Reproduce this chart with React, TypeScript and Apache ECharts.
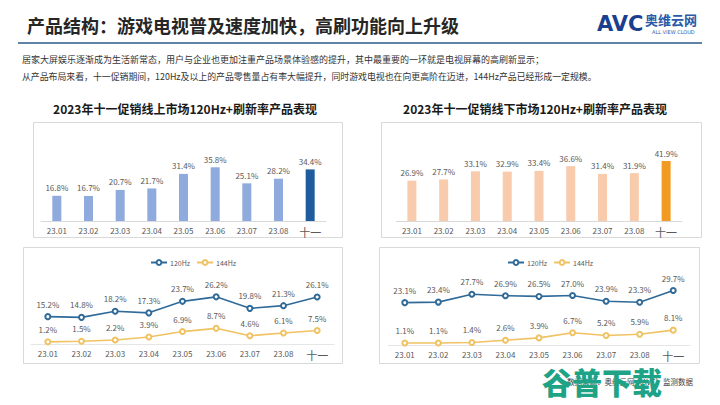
import React, { useEffect, useRef } from "react";
import * as echarts from "echarts";

const categories = ["23.01", "23.02", "23.03", "23.04", "23.05", "23.06", "23.07", "23.08", "十一"];
const onlineShare = [16.8, 16.7, 20.7, 21.7, 31.4, 35.8, 25.1, 28.2, 34.4];
const offlineShare = [26.9, 27.7, 33.1, 32.9, 33.4, 36.6, 31.4, 31.9, 41.9];
const online120 = [15.2, 14.8, 18.2, 17.3, 23.7, 26.2, 19.8, 21.3, 26.1];
const online144 = [1.2, 1.5, 2.2, 3.9, 6.9, 8.7, 4.6, 6.1, 7.5];
const offline120 = [23.1, 23.4, 27.7, 26.9, 26.5, 27.0, 23.9, 23.3, 29.7];
const offline144 = [1.1, 1.1, 1.4, 2.6, 3.9, 6.7, 5.2, 5.9, 8.1];

const FONT = "'Noto Sans CJK SC', 'Noto Sans', sans-serif";
const LABEL_COLOR = "#595959";

const highlightLast = (arr: number[], base: string, hi: string) =>
  arr.map((v, i) =>
    i === arr.length - 1 ? { value: v, itemStyle: { color: hi } } : { value: v, itemStyle: { color: base } }
  );

const pct = (p: any) => Number(p.value).toFixed(1) + "%";

export default function App() {
  const ref = useRef<HTMLDivElement>(null);
  useEffect(() => {
    if (!ref.current) return;
    const chart = echarts.init(ref.current, null, { renderer: "svg" });

    const xAxisBase = (gridIndex: number, lineColor: string) => ({
      type: "category",
      gridIndex,
      data: categories,
      axisTick: { show: false },
      axisLine: { lineStyle: { color: lineColor, width: 1 } },
      axisLabel: {
        interval: 0,
        fontSize: 8,
        color: LABEL_COLOR,
        margin: 5,
        fontFamily: FONT,
        formatter: (v: string) => (v === "十一" ? "{b|十一}" : v),
        rich: { b: { fontSize: 11, color: LABEL_COLOR, fontFamily: FONT } },
      },
    });

    const lineSeries = (name: string, data: number[], idx: number, color: string) => ({
      type: "line",
      name,
      xAxisIndex: idx,
      yAxisIndex: idx,
      data,
      symbol: "emptyCircle",
      symbolSize: 5,
      lineStyle: { color, width: 1.6 },
      itemStyle: { color, borderWidth: 1 },
      label: {
        show: true,
        position: "top",
        distance: 5,
        fontSize: 8,
        color: LABEL_COLOR,
        fontFamily: FONT,
        formatter: pct,
      },
    });

    const option: any = {
      animation: false,
      backgroundColor: "#ffffff",
      textStyle: { fontFamily: FONT },
      grid: [
        { left: 41, top: 161, width: 285, height: 60 },
        { left: 396, top: 161, width: 286, height: 60 },
        { left: 31, top: 290, width: 303, height: 54 },
        { left: 388, top: 290, width: 302, height: 55 },
      ],
      xAxis: [
        xAxisBase(0, "#d9d9d9"),
        xAxisBase(1, "#d9d9d9"),
        xAxisBase(2, "#e6e6e6"),
        xAxisBase(3, "#e6e6e6"),
      ],
      yAxis: [
        { type: "value", gridIndex: 0, min: 0, max: 40, show: false },
        { type: "value", gridIndex: 1, min: 0, max: 40, show: false },
        { type: "value", gridIndex: 2, min: 0, max: 30, show: false },
        { type: "value", gridIndex: 3, min: 0, max: 30, show: false },
      ],
      legend: [
        {
          left: 145,
          top: 254,
          itemWidth: 16,
          itemHeight: 6,
          itemGap: 6,
          data: ["120Hz", "144Hz"],
          textStyle: { fontSize: 7, color: LABEL_COLOR, fontFamily: FONT, padding: [0, 0, 0, -2] },
        },
        {
          left: 502,
          top: 254,
          itemWidth: 16,
          itemHeight: 6,
          itemGap: 6,
          data: ["120Hz", "144Hz"],
          textStyle: { fontSize: 7, color: LABEL_COLOR, fontFamily: FONT, padding: [0, 0, 0, -2] },
        },
      ],
      series: [
        {
          type: "bar",
          name: "线上",
          xAxisIndex: 0,
          yAxisIndex: 0,
          barWidth: 9,
          data: highlightLast(onlineShare, "#8faadc", "#1f5c9e"),
          label: {
            show: true,
            position: "top",
            distance: 4,
            fontSize: 8,
            color: LABEL_COLOR,
            fontFamily: FONT,
            formatter: pct,
          },
        },
        {
          type: "bar",
          name: "线下",
          xAxisIndex: 1,
          yAxisIndex: 1,
          barWidth: 9,
          data: highlightLast(offlineShare, "#f8cbad", "#f29b22"),
          label: {
            show: true,
            position: "top",
            distance: 4,
            fontSize: 8,
            color: LABEL_COLOR,
            fontFamily: FONT,
            formatter: pct,
          },
        },
        lineSeries("120Hz", online120, 2, "#2f6a98"),
        lineSeries("144Hz", online144, 2, "#f0c262"),
        lineSeries("120Hz", offline120, 3, "#2f6a98"),
        lineSeries("144Hz", offline144, 3, "#f0c262"),
      ],
      graphic: [
        // title
        {
          type: "text",
          left: 27,
          top: 16,
          style: { text: "产品结构：游戏电视普及速度加快，高刷功能向上升级", fontSize: 18, fontWeight: "bold", fill: "#262626", fontFamily: FONT },
        },
        {
          type: "line",
          shape: { x1: 18, y1: 43, x2: 702, y2: 43 },
          style: { stroke: "#2a5a8a", lineWidth: 1.6 },
        },
        // logo
        {
          type: "text",
          left: 597,
          top: 13,
          style: { text: "AVC", fontSize: 21, fontWeight: 900, fill: "#1b3f8f", fontFamily: "'DejaVu Sans', sans-serif" },
        },
        {
          type: "text",
          left: 645,
          top: 13,
          style: { text: "奥维云网", fontSize: 13, fontWeight: "bold", fill: "#2b5aa8", fontFamily: FONT },
        },
        {
          type: "text",
          left: 652,
          top: 29,
          style: { text: "ALL VIEW CLOUD", fontSize: 5, fill: "#2b5aa8", fontFamily: "'DejaVu Sans', sans-serif" },
        },
        // intro text
        {
          type: "text",
          left: 22,
          top: 55,
          style: {
            text: "居家大屏娱乐逐渐成为生活新常态，用户与企业也更加注重产品场景体验感的提升，其中最重要的一环就是电视屏幕的高刷新显示；",
            fontSize: 9,
            fill: "#333333",
            fontFamily: FONT,
          },
        },
        {
          type: "text",
          left: 22,
          top: 72,
          style: {
            text: "从产品布局来看，十一促销期间，120Hz及以上的产品零售量占有率大幅提升，同时游戏电视也在向更高阶在迈进，144Hz产品已经形成一定规模。",
            fontSize: 8.9,
            fill: "#333333",
            fontFamily: FONT,
          },
        },
        // chart titles
        {
          type: "text",
          x: 185,
          y: 108,
          style: { text: "2023年十一促销线上市场120Hz+刷新率产品表现", fontSize: 12, fontWeight: "bold", fill: "#1a1a1a", fontFamily: FONT, align: "center", verticalAlign: "middle" },
        },
        {
          type: "text",
          x: 535,
          y: 108,
          style: { text: "2023年十一促销线下市场120Hz+刷新率产品表现", fontSize: 12, fontWeight: "bold", fill: "#1a1a1a", fontFamily: FONT, align: "center", verticalAlign: "middle" },
        },
        // boxes
        { type: "rect", shape: { x: 33.5, y: 122.5, width: 309, height: 115 }, style: { fill: "none", stroke: "#d9d9d9", lineWidth: 1 }, z: -1 },
        { type: "rect", shape: { x: 381.5, y: 122.5, width: 320, height: 115 }, style: { fill: "none", stroke: "#d9d9d9", lineWidth: 1 }, z: -1 },
        { type: "rect", shape: { x: 23.5, y: 247.5, width: 319, height: 116 }, style: { fill: "none", stroke: "#d9d9d9", lineWidth: 1 }, z: -1 },
        { type: "rect", shape: { x: 379.5, y: 247.5, width: 320, height: 116 }, style: { fill: "none", stroke: "#d9d9d9", lineWidth: 1 }, z: -1 },
        // source
        {
          type: "text",
          right: 27,
          top: 378,
          style: { text: "数据来源：奥维云网（AVC）监测数据", fontSize: 7.5, fill: "#404040", fontFamily: FONT },
        },
        {
          type: "text",
          left: 542,
          top: 366,
          z: 100,
          style: { text: "谷普下载", fontSize: 30, fontWeight: 900, fill: "#1ea386", fontFamily: FONT },
        },
      ],
    };

    chart.setOption(option);
    return () => chart.dispose();
  }, []);

  return (
    <div
      ref={ref}
      style={{ position: "fixed", left: 0, top: 0, width: 720, height: 405, background: "#fff" }}
    />
  );
}
